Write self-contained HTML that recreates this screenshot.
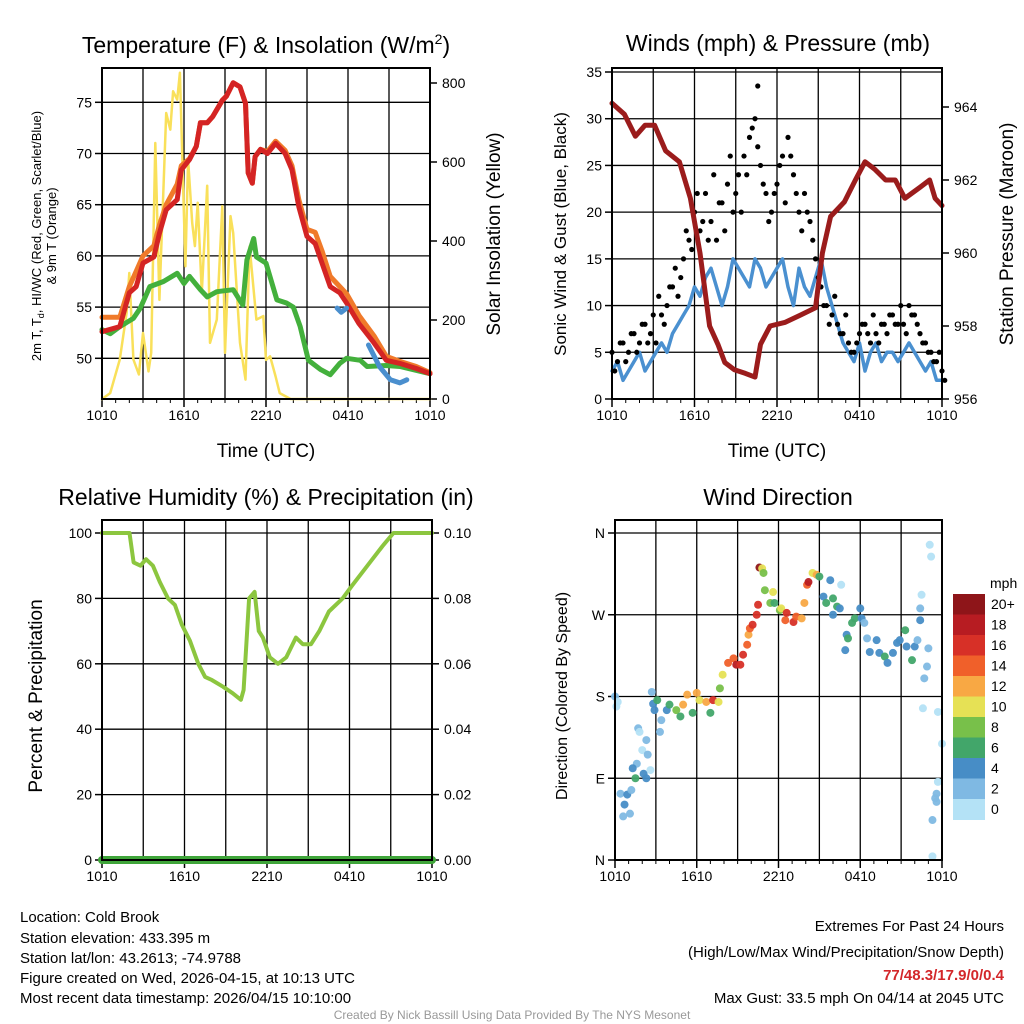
<!DOCTYPE html>
<html><head><meta charset="utf-8"><style>
html,body{margin:0;padding:0;background:#fff;}
svg{display:block;font-family:"Liberation Sans",sans-serif;}
</style></head><body>
<svg id="root" width="1024" height="1024" viewBox="0 0 1024 1024" xmlns="http://www.w3.org/2000/svg">
<g id="p1"></g>
<g id="p2"></g>
<g id="p3"></g>
<g id="p4"></g>
<text x="266" y="53" font-size="23" text-anchor="middle">Temperature (F) &amp; Insolation (W/m<tspan dy="-9" font-size="14">2</tspan><tspan dy="9">)</tspan></text>
<text x="778" y="51" font-size="23" text-anchor="middle">Winds (mph) &amp; Pressure (mb)</text>
<text x="266" y="505" font-size="23" text-anchor="middle">Relative Humidity (%) &amp; Precipitation (in)</text>
<text x="778" y="505" font-size="23" text-anchor="middle">Wind Direction</text>
<text x="266" y="457" font-size="19" text-anchor="middle">Time (UTC)</text>
<text x="777" y="457" font-size="19" text-anchor="middle">Time (UTC)</text>
<g font-size="13">
<text transform="translate(41,236) rotate(-90)" text-anchor="middle">2m T, T<tspan font-size="9" dy="3">d</tspan><tspan dy="-3">, HI/WC (Red, Green, Scarlet/Blue)</tspan></text>
<text transform="translate(56,236) rotate(-90)" text-anchor="middle">&amp; 9m T (Orange)</text>
</g>
<text transform="translate(500,234) rotate(-90)" font-size="19" text-anchor="middle">Solar Insolation (Yellow)</text>
<text transform="translate(566,234) rotate(-90)" font-size="17" text-anchor="middle">Sonic Wind &amp; Gust (Blue, Black)</text>
<text transform="translate(1013,234) rotate(-90)" font-size="19" text-anchor="middle">Station Pressure (Maroon)</text>
<text transform="translate(42,696) rotate(-90)" font-size="19" text-anchor="middle">Percent &amp; Precipitation</text>
<text transform="translate(567,696) rotate(-90)" font-size="16" text-anchor="middle">Direction (Colored By Speed)</text>
<g font-size="15">
<text x="20" y="922">Location: Cold Brook</text>
<text x="20" y="943">Station elevation: 433.395 m</text>
<text x="20" y="963">Station lat/lon: 43.2613; -74.9788</text>
<text x="20" y="983">Figure created on Wed, 2026-04-15, at 10:13 UTC</text>
<text x="20" y="1003">Most recent data timestamp: 2026/04/15 10:10:00</text>
</g>
<g font-size="15" text-anchor="end">
<text x="1004" y="931">Extremes For Past 24 Hours</text>
<text x="1004" y="957">(High/Low/Max Wind/Precipitation/Snow Depth)</text>
<text x="1004" y="980" fill="#d3272a" font-weight="bold">77/48.3/17.9/0/0.4</text>
<text x="1004" y="1003">Max Gust: 33.5 mph On 04/14 at 2045 UTC</text>
</g>
<text x="512" y="1019" font-size="12" fill="#999" text-anchor="middle">Created By Nick Bassill Using Data Provided By The NYS Mesonet</text>
</svg>
<script>
// ---- Temperature panel data (hours since 1010 UTC) ----
const redT=[0,1.3,2.0,2.5,3.0,3.8,4.2,4.7,5.5,5.8,6.4,6.9,7.2,7.7,8.1,8.8,9.1,9.6,10.1,10.5,10.7,11.0,11.2,11.6,12.1,12.7,13.4,13.9,14.4,15.0,15.6,16.1,16.7,17.4,17.9,18.8,19.9,20.8,21.8,23.0,24];
const redV=[52.6,53.1,56.4,57,59.3,59.9,62.2,64.5,65.5,68.4,69.4,70.7,73,73,73.6,75.2,75.6,76.9,76.5,74.9,68.1,67.1,69.7,70.4,70,71,70,68.4,64.8,61.9,61.2,59.3,57,56.4,55.4,53.4,51.5,49.8,49.5,49,48.5];
const orangeV=[54,54,57,58.5,60,61,63,65,67,68.8,69.5,70.7,73,73,73.6,75.2,75.6,76.9,76.5,74.9,68.1,67.1,69.7,70.4,70.2,71.2,70.3,68.8,65.5,62.6,62.3,60.5,58,57,56.3,54.2,52.2,50.2,49.7,49.2,48.6];
const greenT=[0,0.6,1.3,2.3,2.8,3.5,4.5,5.5,6.0,6.4,7.2,7.7,8.4,9.6,10.3,10.6,11.1,11.3,12.0,12.8,13.5,14.0,14.5,15.1,16.0,16.7,17.4,17.9,18.9,19.4,20.8,21.8,24];
const greenV=[52.8,52.4,53.1,53.9,54.9,57,57.5,58.3,57.3,58,56.7,56,56.5,56.7,55.2,59.6,61.7,59.9,59.3,55.7,55.4,55,53.1,49.8,48.9,48.4,49.5,50,49.8,49.2,49.3,49.2,48.5];
const blueT1=[17.2,17.5,17.9];
const blueV1=[54.9,54.5,54.9];
const blueT2=[19.5,20.3,21.1,21.8,22.3];
const blueV2=[51.3,49.2,47.9,47.6,47.9];
const solarT=[0,0.6,1.3,1.8,2.0,2.3,2.7,3.0,3.4,3.6,3.9,4.2,4.7,5.0,5.2,5.5,5.7,6.1,6.3,6.6,6.8,7.0,7.3,7.7,7.9,8.4,8.8,9.0,9.4,9.6,10.1,10.5,10.8,11.3,11.8,12.0,12.3,12.7,13.0,13.8,24];
const solarV=[0,15,100,218,319,100,62,167,70,117,648,251,724,682,779,758,826,336,606,446,387,497,269,540,142,201,488,117,463,420,142,49,386,201,210,99,108,57,15,0,0];
const timeTicks=["1010","1610","2210","0410","1010"];
const tempTicks=[50,55,60,65,70,75];
const solarTicks=[0,200,400,600,800];
// ---- Winds panel data ----
const presT=[0,0.9,1.7,2.4,3.1,3.9,4.9,5.7,6.4,7.1,7.7,8.2,8.9,9.7,10.4,10.8,11.5,12.6,13.7,14.8,15.3,15.9,16.9,17.7,18.4,19.1,19.9,20.6,21.3,22.4,23.1,23.5,24];
const presV=[964.1,963.8,963.2,963.5,963.5,962.8,962.5,961.5,960,958,957.5,957,956.8,956.7,956.6,957.5,958,958.1,958.3,958.5,960,961,961.4,962,962.5,962.3,962,962,961.5,961.8,962,961.5,961.3];
const sonicV=[3,4,2,3,4,5,3,4,5,6,5,7,8,9,10,12,11,13,14,12,10,12,15,14,13,12,15,14,12,13,14,15,12,10,14,12,11,13,15,12,10,8,6,5,4,6,3,5,6,4,5,5,4,5,6,5,4,3,4,2,2];
const gustV=[5,4,6,5,7,6,8,7,6,9,10,12,11,15,17,20,18,22,19,17,21,23,20,24,26,28,30,25,22,20,23,26,28,24,20,22,19,15,12,10,9,8,7,6,5,7,8,6,7,8,7,9,8,8,10,9,7,6,5,4,3];
const gustV2=[3,6,4,7,5,8,6,9,11,8,12,14,13,18,16,22,19,17,24,21,18,26,22,20,24,29,27,23,19,22,25,21,26,22,18,20,17,13,10,8,11,7,9,5,6,8,7,9,6,8,9,8,10,7,9,8,6,5,4,5,2];
const maxGustT=10.6, maxGustV=33.5;
const windTicks=[0,5,10,15,20,25,30,35];
const presTicks=[956,958,960,962,964];
// ---- Humidity panel data ----
const rhT=[0,2.0,2.3,2.8,3.2,3.7,4.2,4.8,5.3,5.8,6.4,7.0,7.5,8.0,8.8,9.5,10.1,10.3,10.7,11.1,11.4,11.7,12.2,12.8,13.4,14.1,14.6,15.2,15.8,16.5,17.5,18.2,19.3,20.4,21.2,21.9,24];
const rhV=[100,100,91,90,92,90,85,80,78,72,67,60,56,55,53,51,49,52,80,82,70,68,62,60,62,68,66,66,70,76,80,84,90,96,100,100,100];
const precipV=[0,0];
const rhTicks=[0,20,40,60,80,100];
const precipTicks=["0.00","0.02","0.04","0.06","0.08","0.10"];
// ---- Wind direction panel data ----
const dirT=[0.0,0.2,0.1,2.7,2.8,2.9,3.1,3.4,3.3,1.7,1.8,2.3,2.0,2.4,1.6,1.3,1.5,2.1,2.3,2.6,0.4,0.9,1.2,0.7,0.6,1.1,3.8,4.0,4.5,4.8,5.0,5.3,5.7,6.0,6.2,6.7,7.0,7.2,7.6,7.7,7.9,8.3,8.7,8.9,9.2,9.4,9.7,9.8,9.9,10.1,10.4,10.5,10.6,10.8,10.9,11.0,11.4,11.6,11.7,12.1,12.2,12.5,12.6,13.1,13.3,13.7,13.9,14.1,14.2,14.5,14.8,15.0,15.8,16.6,15.3,15.5,16.0,16.3,16.5,16.0,17.0,17.1,16.9,17.4,17.6,18.0,18.1,18.3,18.5,18.7,19.2,19.4,19.8,20.0,20.4,20.7,20.9,21.3,21.4,21.8,22.0,22.2,22.4,22.5,22.4,23.0,22.9,22.7,22.6,23.7,24.0,23.7,23.6,23.5,23.6,23.3,23.3,23.1,23.2];
const dirV=[180,174,169,185,172,165,176,154,141,145,141,132,121,116,106,101,90,95,90,99,73,72,77,61,48,51,165,171,165,158,171,182,162,184,176,174,162,176,174,189,204,217,222,215,215,226,237,248,255,259,270,281,322,321,316,297,283,295,283,275,277,264,272,262,268,266,283,303,306,316,314,312,308,303,290,283,288,279,277,270,248,244,231,261,266,277,266,261,244,229,242,228,224,217,228,239,242,253,235,220,235,242,264,292,277,233,213,200,167,163,128,86,73,68,64,44,4,347,334];
const dirS=[3,1,1,3,5,5,7,3,3,3,1,3,1,3,3,5,7,5,5,1,3,5,3,5,3,3,5,7,9,7,13,13,7,13,11,13,7,17,11,9,11,15,15,19,17,17,15,13,15,17,17,17,21,11,9,9,9,11,7,9,11,15,17,17,15,13,13,15,19,11,13,7,5,1,5,7,7,7,5,5,5,7,5,7,7,5,5,3,3,5,5,5,7,5,5,5,5,7,5,7,5,3,5,1,3,3,3,3,1,1,1,1,3,3,3,3,1,1,1];
const speedLabels=["20+","18","16","14","12","10","8","6","4","2","0"];
const speedColors=["#8e1519","#b71c22","#d73027","#f0602a","#f8a844","#e6e155","#78c04a","#42a66a","#478dc6","#7fb9e3","#b4e2f6"];
const dirLabels=["N","W","S","E","N"];

const NS="http://www.w3.org/2000/svg";
function mk(parent,tag,attrs){const e=document.createElementNS(NS,tag);for(const k in attrs)e.setAttribute(k,attrs[k]);parent.appendChild(e);return e;}
function lin(d0,d1,r0,r1){return v=>r0+(v-d0)*(r1-r0)/(d1-d0);}
function pathD(ts,vs,sx,sy){return ts.map((t,i)=>(i?"L":"M")+sx(t).toFixed(1)+","+sy(vs[i]).toFixed(1)).join("");}

function frame(g,L,R,T,B){
  const sx=lin(0,24,L,R);
  for(let h=3;h<24;h+=3){const l=mk(g,"line",{x1:sx(h),x2:sx(h),y1:T,y2:B,stroke:"#000","stroke-width":1.3});
    
    }
  timeTicks.forEach((lab,i)=>{const x=sx(i*6);
    const t=mk(g,"text",{x:x,y:B+21,"font-size":14,"text-anchor":"middle"});t.textContent=lab;
    
    
    mk(g,"line",{x1:x,x2:x,y1:B,y2:B+8,stroke:"#000","stroke-width":1.5});});
  for(let h=0;h<=24;h+=1){mk(g,"line",{x1:sx(h),x2:sx(h),y1:B,y2:B+4,stroke:"#000","stroke-width":1});}
  return sx;
}
function box(g,L,R,T,B){const r=mk(g,"rect",{x:L,y:T,width:R-L,height:B-T,fill:"none",stroke:"#000","stroke-width":2});
  
  }
function yTicks(g,vals,labels,sy,x,side,L,R,grid){
  vals.forEach((v,i)=>{const y=sy(v);
    if(grid){const gl=mk(g,"line",{x1:L,x2:R,y1:y,y2:y,stroke:"#000","stroke-width":1.3});
      
      }
    mk(g,"line",{x1:x,x2:x+(side<0?-7:7),y1:y,y2:y,stroke:"#000","stroke-width":1.5});
    const t=mk(g,"text",{x:x+(side<0?-10:12),y:y+5,"font-size":14,"text-anchor":side<0?"end":"start"});t.textContent=labels[i];
    
    });
}
function line(g,ts,vs,sx,sy,col,w,name){const p=mk(g,"path",{d:pathD(ts,vs,sx,sy),fill:"none",stroke:col,"stroke-width":w,"stroke-linejoin":"round","stroke-linecap":"round"});
  
  return p;}

// Panel 1
(function(){const g=document.getElementById("p1");const L=102,R=430,T=68,B=399;
  const sy=lin(50,75,358.3,102.3), sw=lin(0,800,399,83);
  const sx=frame(g,L,R,T,B);
  yTicks(g,tempTicks,tempTicks.map(String),sy,L,-1,L,R,true);
  yTicks(g,solarTicks,solarTicks.map(String),sw,R,1,L,R,false);
  line(g,solarT,solarV,sx,sw,"#f9e05a",2.5,"solar-insolation-line");
  line(g,greenT,greenV,sx,sy,"#43b03c",5,"dewpoint-line");
  line(g,redT,orangeV,sx,sy,"#f07a2a",5,"temp-9m-line");
  line(g,redT,redV,sx,sy,"#d42424",5,"temp-2m-line");
  line(g,blueT1,blueV1,sx,sy,"#4a8fce",5,"windchill-line-1");
  line(g,blueT2,blueV2,sx,sy,"#4a8fce",5,"windchill-line-2");
  box(g,L,R,T,B);})();

// Panel 2
(function(){const g=document.getElementById("p2");const L=612,R=942,T=68,B=399;
  const sy=lin(0,35,399,72), sp=lin(956,964,399,107);
  const sx=frame(g,L,R,T,B);
  yTicks(g,windTicks,windTicks.map(String),sy,L,-1,L,R,true);
  yTicks(g,presTicks,presTicks.map(String),sp,R,1,L,R,false);
  const st=sonicV.map((v,i)=>i*24/(sonicV.length-1));
  line(g,st,sonicV,sx,sy,"#4a90d0",3.5,"sonic-wind-line");
  const gt=gustV.map((v,i)=>i*24/(gustV.length-1));
  gt.forEach((t,i)=>{const c=mk(g,"circle",{cx:sx(t),cy:sy(gustV[i]),r:2.6,fill:"#000"});
    
    
    const c2=mk(g,"circle",{cx:sx(t+0.2),cy:sy(gustV2[i]),r:2.6,fill:"#000"});
    
    });
  const mg=mk(g,"circle",{cx:sx(maxGustT),cy:sy(maxGustV),r:2.6,fill:"#000"});
  
  
  line(g,presT,presV,sx,sp,"#9b1c1c",5,"pressure-line");
  box(g,L,R,T,B);})();

// Panel 3
(function(){const g=document.getElementById("p3");const L=102,R=432,T=520,B=860;
  const sy=lin(0,100,860,533);
  const sx=frame(g,L,R,T,B);
  yTicks(g,rhTicks,rhTicks.map(String),sy,L,-1,L,R,true);
  yTicks(g,rhTicks,precipTicks,sy,R,1,L,R,false);
  line(g,rhT,rhV,sx,sy,"#8cc63f",4,"relative-humidity-line");
  line(g,[0,24],precipV,sx,lin(0,0.1,860,533),"#3fa53a",8,"precipitation-line");
  box(g,L,R,T,B);})();

// Panel 4
(function(){const g=document.getElementById("p4");const L=615,R=942,T=520,B=860;
  const sy=lin(0,360,860,533);
  const sx=frame(g,L,R,T,B);
  yTicks(g,[360,270,180,90,0],dirLabels,sy,L,-1,L,R,true);
  function col(s){let k=Math.min(10,Math.floor(s/2));return speedColors[10-k];}
  dirT.forEach((t,i)=>{const c=mk(g,"circle",{cx:sx(t),cy:sy(dirV[i]),r:4,fill:col(dirS[i]),"fill-opacity":0.95});
    
    });
  box(g,L,R,T,B);
  const cb=mk(g,"g",{});
  
  
  const t0=mk(cb,"text",{x:990,y:588,"font-size":14});t0.textContent="mph";
  const h=20.5;
  speedColors.forEach((c,i)=>{const y=594+i*h;
    const r=mk(cb,"rect",{x:953,y:y,width:32,height:h+0.5,fill:c});
    
    
    const t=mk(cb,"text",{x:991,y:y+15,"font-size":14});t.textContent=speedLabels[i];
    
    });})();
</script>
</body></html>
